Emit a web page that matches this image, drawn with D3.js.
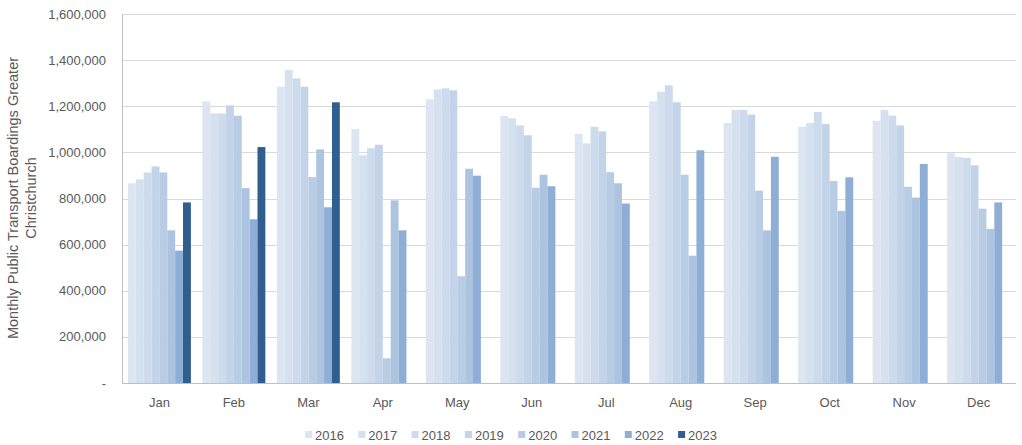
<!DOCTYPE html>
<html>
<head>
<meta charset="utf-8">
<script src="https://cdn.jsdelivr.net/npm/d3@7"></script>
<style>
  html, body { margin: 0; padding: 0; background: #fff; }
  svg text { font-family: "Liberation Sans", Arial, sans-serif; fill: #595959; }
</style>
</head>
<body>
<svg id="chart" width="1022" height="445"></svg>
<script>
const months = ["Jan","Feb","Mar","Apr","May","Jun","Jul","Aug","Sep","Oct","Nov","Dec"];
const years = ["2016","2017","2018","2019","2020","2021","2022","2023"];
const colors = ["#dce6f2","#d6e1f0","#cedbed","#c3d4e9","#b8cce4","#acc4e0","#8eaed5","#305e8e"];
const yTicks = [0,200000,400000,600000,800000,1000000,1200000,1400000,1600000];

const v2016 = [866000,1221000,1285000,1101000,1231000,1158000,1080000,1221000,1127000,1111000,1137000,997000];
const v2017 = [883000,1169000,1357000,987000,1273000,1148000,1039000,1263000,1184000,1127000,1184000,980000];
const v2018 = [913000,1169000,1321000,1018000,1278000,1117000,1111000,1291000,1184000,1175000,1159000,976000];
const v2019 = [939000,1204000,1285000,1033000,1269000,1074000,1091000,1217000,1164000,1123000,1117000,944000];
const v2020 = [913000,1159000,893000,107000,463000,847000,914000,903000,834000,876000,851000,756000];
const v2021 = [662000,845000,1013000,792000,929000,903000,866000,552000,662000,746000,804000,668000];
const v2022 = [574000,710000,762000,662000,899000,853000,778000,1009000,981000,892000,950000,783000];
const v2023 = [783000,1023000,1217000,null,null,null,null,null,null,null,null,null];
const series = [v2016,v2017,v2018,v2019,v2020,v2021,v2022,v2023];

const svg = d3.select("#chart");
const pLeft = 122, pRight = 1016, pTop = 14, pBottom = 383;

const x = d3.scaleBand().domain(months).range([pLeft, pRight]).paddingInner(0.155).paddingOuter(0.08);
const xi = d3.scaleBand().domain(years).range([0, x.bandwidth()]).padding(0);
const y = d3.scaleLinear().domain([0, 1600000]).range([pBottom, pTop]);

// gridlines
svg.append("g").selectAll("line").data(yTicks.filter(d => d > 0)).join("line")
  .attr("x1", pLeft).attr("x2", pRight)
  .attr("y1", d => Math.round(y(d)) + 0.5).attr("y2", d => Math.round(y(d)) + 0.5)
  .attr("stroke", "#d9d9d9").attr("stroke-width", 1);

// bars
const rows = [];
months.forEach((m, mi) => years.forEach((yr, yi) => {
  const v = series[yi][mi];
  if (v != null) rows.push({m, yr, v, c: colors[yi]});
}));
svg.append("g").selectAll("rect").data(rows).join("rect")
  .attr("x", d => x(d.m) + xi(d.yr))
  .attr("width", xi.bandwidth())
  .attr("y", d => y(d.v))
  .attr("height", d => y(0) - y(d.v))
  .attr("fill", d => d.c);

// axes lines
svg.append("line").attr("x1", pLeft + 0.5).attr("x2", pLeft + 0.5).attr("y1", pTop).attr("y2", pBottom)
  .attr("stroke", "#bfbfbf");
svg.append("line").attr("x1", pLeft).attr("x2", pRight).attr("y1", pBottom + 0.5).attr("y2", pBottom + 0.5)
  .attr("stroke", "#bfbfbf");

// y tick labels
const fmt = d3.format(",");
svg.append("g").selectAll("text").data(yTicks).join("text")
  .attr("x", 106).attr("y", d => y(d)).attr("dy", "0.35em")
  .attr("text-anchor", "end").attr("font-size", 13)
  .text(d => d === 0 ? "-" : fmt(d));

// x labels
svg.append("g").selectAll("text").data(months).join("text")
  .attr("x", d => x(d) + x.bandwidth() / 2).attr("y", 402).attr("dy", "0.35em")
  .attr("text-anchor", "middle").attr("font-size", 13)
  .text(d => d);

// y title
const yt = svg.append("text").attr("transform", "translate(22,198) rotate(-90)")
  .attr("text-anchor", "middle").attr("font-size", 14.5);
yt.append("tspan").attr("x", 0).attr("dy", "-0.28em").text("Monthly Public Transport Boardings Greater");
yt.append("tspan").attr("x", 0).attr("dy", "1.24em").text("Christchurch");

// legend
const lg = svg.append("g").selectAll("g").data(years).join("g")
  .attr("transform", (d, i) => `translate(${305 + i * 53.3},435)`);
lg.append("rect").attr("x", 0).attr("y", -4).attr("width", 7).attr("height", 7)
  .attr("fill", (d, i) => colors[i]);
lg.append("text").attr("x", 10).attr("y", 0).attr("dy", "0.35em").attr("font-size", 13).text(d => d);
</script>
</body>
</html>
